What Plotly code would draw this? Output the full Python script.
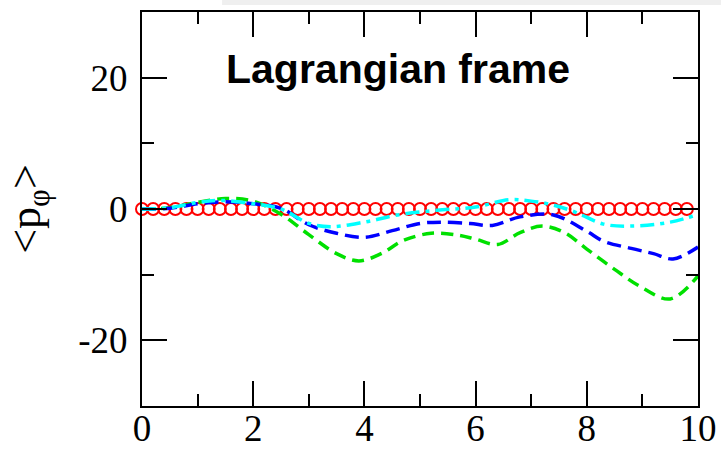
import numpy as np
import plotly.graph_objects as go

# Reference: vanishing average, sampled every 0.2
x_ref = [round(0.2 * i, 1) for i in range(50)]
y_ref = [0.0] * 50

# Green dashed curve
x_green = [0, 0.5, 1.0, 1.5, 2.0, 2.5, 3.0, 3.5, 3.9, 4.3, 4.7, 5.2, 5.7, 6.0, 6.4, 6.8, 7.2, 7.6, 8.0, 8.5, 9.0, 9.5, 10]
y_green = [0, 0.2, 1.0, 1.6, 1.2, -0.8, -3.9, -6.8, -7.9, -6.8, -4.8, -3.7, -4.0, -4.6, -5.4, -3.6, -2.6, -3.6, -6.1, -9.2, -12.0, -13.7, -10.2]

# Blue dashed curve
x_blue = [0, 0.5, 1.0, 1.5, 2.0, 2.5, 3.0, 3.5, 4.0, 4.5, 5.0, 5.4, 5.9, 6.3, 6.8, 7.4, 8.0, 8.3, 8.8, 9.2, 9.55, 10]
y_blue = [0, 0.1, 0.8, 1.1, 0.8, 0.1, -2.4, -3.7, -4.3, -3.3, -2.2, -2.0, -2.2, -2.5, -1.2, -0.9, -3.4, -4.9, -6.0, -6.8, -7.6, -5.8]

# Cyan dash-dot curve
x_cyan = [0, 0.5, 1.0, 1.4, 2.0, 2.5, 3.0, 3.4, 4.0, 4.6, 5.3, 6.0, 6.6, 7.0, 7.4, 7.8, 8.3, 8.8, 9.5, 10]
y_cyan = [0, 0.2, 1.0, 1.3, 0.8, 0.0, -2.2, -2.7, -2.0, -0.9, -0.2, 0.3, 1.4, 1.2, 0.6, -0.5, -2.3, -2.6, -2.0, -0.8]

x_ticks = [0, 2, 4, 6, 8, 10]
y_ticks = [-20, 0, 20]

fig = go.Figure()

fig.add_trace(go.Scatter(
    x=x_ref, y=y_ref, mode="markers",
    marker=dict(symbol="circle-open", size=12, color="#ff0000", line=dict(width=2, color="#ff0000")),
    cliponaxis=False, showlegend=False,
))
fig.add_trace(go.Scatter(
    x=x_green, y=y_green, mode="lines", line_shape="spline",
    line=dict(color="#00e000", width=3.5, dash="12px,7px"), showlegend=False,
))
fig.add_trace(go.Scatter(
    x=x_blue, y=y_blue, mode="lines", line_shape="spline",
    line=dict(color="#0000ff", width=3.5, dash="14px,7px"), showlegend=False,
))
fig.add_trace(go.Scatter(
    x=x_cyan, y=y_cyan, mode="lines", line_shape="spline",
    line=dict(color="#00ffff", width=3.5, dash="14px,6px,4px,6px"), showlegend=False,
))

axis_common = dict(
    showline=True, linecolor="black", linewidth=2, mirror="ticks",
    showgrid=False, zeroline=False,
    ticks="inside", ticklen=25, tickwidth=2, tickcolor="black",
    tickfont=dict(family="Liberation Serif", size=37, color="black"),
)

fig.update_xaxes(
    range=[0, 10], tickvals=x_ticks, ticktext=[str(v) for v in x_ticks],
    minor=dict(ticks="inside", ticklen=12, tickwidth=2, tickcolor="black", dtick=1),
    ticklabelstandoff=-11,
    **axis_common,
)
fig.update_yaxes(
    range=[-30, 30], tickvals=y_ticks, ticktext=[str(v) for v in y_ticks],
    minor=dict(ticks="inside", ticklen=12, tickwidth=2, tickcolor="black", dtick=10),
    ticklabelstandoff=5,
    title=dict(text="&lt;p<sub>φ</sub>&gt;", font=dict(family="Liberation Serif", size=44, color="black"), standoff=24),
    **axis_common,
)

fig.add_annotation(
    text="<b>Lagrangian frame</b>", xref="paper", yref="paper",
    x=0.46, y=0.855, xanchor="center", yanchor="middle", showarrow=False,
    font=dict(family="Liberation Sans", size=41, color="black"),
)

# thin light band along the top edge
fig.add_shape(type="rect", xref="paper", yref="paper",
              x0=0.144, x1=1.05, y0=1.018, y1=1.04,
              fillcolor="#efefef", line=dict(width=0), layer="below")

fig.update_layout(
    width=721, height=449,
    margin=dict(l=142, r=23, t=12, b=43, autoexpand=False),
    plot_bgcolor="white", paper_bgcolor="white",
)

fig.write_html("out.html")
